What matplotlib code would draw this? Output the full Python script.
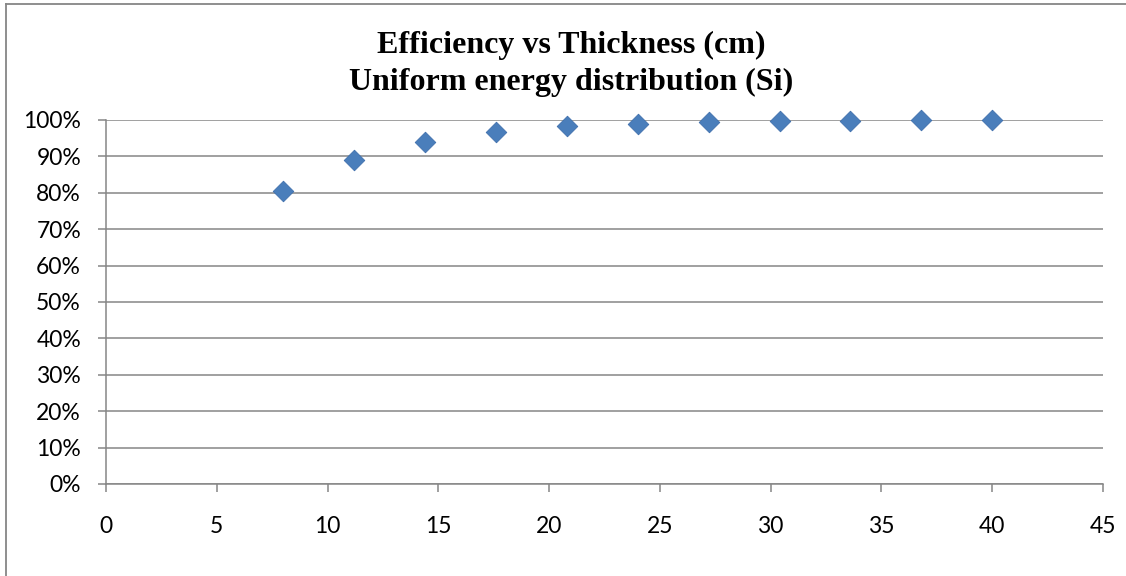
import matplotlib.pyplot as plt
from matplotlib.lines import Line2D
from matplotlib.ticker import PercentFormatter, MultipleLocator

# detector thickness (cm) and detection efficiency
thickness = [8.0, 11.2, 14.4, 17.6, 20.8, 24.0, 27.2, 30.4, 33.6, 36.8, 40.0]
efficiency = [0.805, 0.891, 0.940, 0.968, 0.983, 0.990, 0.994, 0.997, 0.998, 0.999, 1.000]

title_lines = ["Efficiency vs Thickness (cm)", "Uniform energy distribution (Si)"]

GRID = "#868686"
BLUE = "#4A7EBB"


def main():
    fig = plt.figure(figsize=(11.26, 5.76), dpi=100)
    ax = fig.add_axes([106 / 1126, 92 / 576, 997 / 1126, 364 / 576])

    ax.scatter(thickness, efficiency, marker="D", s=110, color=BLUE,
               edgecolors="#3F70AD", linewidths=0.6, zorder=3, clip_on=False)

    ax.set_xlim(0, 45)
    ax.set_ylim(0, 1.0)
    ax.xaxis.set_major_locator(MultipleLocator(5))
    ax.yaxis.set_major_locator(MultipleLocator(0.1))
    ax.yaxis.set_major_formatter(PercentFormatter(1.0, decimals=0))

    ax.grid(axis="y", color=GRID, linewidth=1.1)
    ax.set_axisbelow(True)
    for side in ("top", "right"):
        ax.spines[side].set_visible(False)
    for side in ("left", "bottom"):
        ax.spines[side].set_color(GRID)
        ax.spines[side].set_linewidth(1.1)

    ax.tick_params(axis="both", color=GRID, width=1.1, length=6,
                   labelsize=16.5, labelcolor="black")
    ax.tick_params(axis="y", pad=12)
    ax.tick_params(axis="x", pad=17)
    for lab in ax.get_xticklabels() + ax.get_yticklabels():
        lab.set_fontfamily("Lato")

    fig.text(571 / 1126, 1 - 64 / 576, "\n".join(title_lines),
             ha="center", va="center", fontsize=23, fontweight="bold",
             family="Liberation Serif", linespacing=1.38)

    # chart frame: only the left and top edges fall inside the image
    fig.add_artist(Line2D([5.5 / 1126, 5.5 / 1126], [0, 1 - 3.5 / 576],
                          transform=fig.transFigure, color=GRID, linewidth=1.3))
    fig.add_artist(Line2D([5.5 / 1126, 1], [1 - 3.5 / 576, 1 - 3.5 / 576],
                          transform=fig.transFigure, color=GRID, linewidth=1.3))

    fig.savefig("out.png", dpi=100)


if __name__ == "__main__":
    main()
